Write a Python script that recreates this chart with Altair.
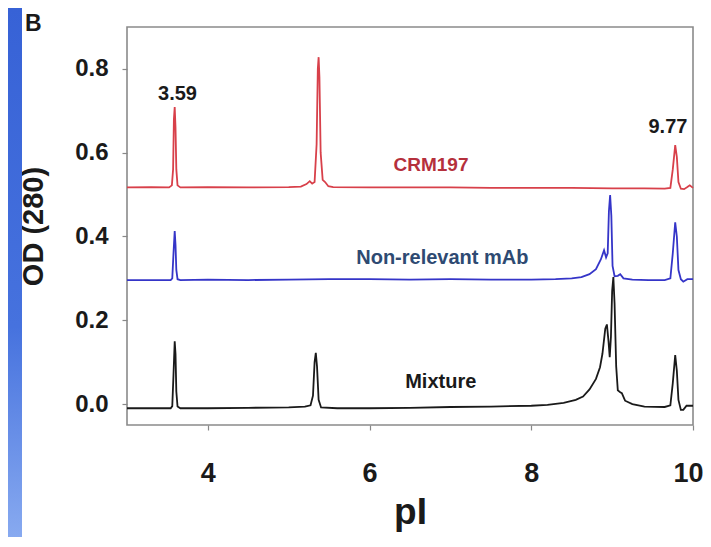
import altair as alt
import pandas as pd

# ---------------- data ----------------
crm_x = [3.00, 3.30, 3.52, 3.555, 3.57, 3.58, 3.59, 3.60, 3.61, 3.625, 3.66, 4.00, 4.50, 5.00, 5.15,
         5.22, 5.26, 5.29, 5.32, 5.345, 5.36, 5.37, 5.38, 5.395, 5.42, 5.45, 5.49, 5.55, 6.00, 6.50,
         7.00, 7.50, 8.00, 8.50, 9.00, 9.40, 9.65, 9.72, 9.75, 9.78, 9.80, 9.82, 9.85, 9.89, 9.93,
         9.96, 10.00]
crm_y = [0.517, 0.518, 0.517, 0.522, 0.560, 0.680, 0.709, 0.660, 0.560, 0.522, 0.517, 0.518, 0.517,
         0.518, 0.519, 0.525, 0.532, 0.526, 0.530, 0.620, 0.800, 0.828, 0.780, 0.600, 0.535, 0.530,
         0.520, 0.518, 0.517, 0.517, 0.517, 0.516, 0.516, 0.516, 0.515, 0.515, 0.514, 0.516, 0.560,
         0.618, 0.590, 0.530, 0.514, 0.513, 0.518, 0.522, 0.516]

mab_x = [3.00, 3.30, 3.54, 3.56, 3.575, 3.59, 3.60, 3.61, 3.625, 3.66, 4.00, 4.50, 5.00, 5.50, 6.00,
         6.50, 7.00, 7.50, 8.00, 8.30, 8.50, 8.62, 8.72, 8.80, 8.86, 8.90, 8.925, 8.945, 8.96, 8.975,
         8.99, 9.005, 9.03, 9.07, 9.10, 9.14, 9.25, 9.45, 9.65, 9.72, 9.75, 9.78, 9.80, 9.82, 9.85,
         9.88, 9.93, 10.00]
mab_y = [0.296, 0.296, 0.296, 0.300, 0.360, 0.413, 0.380, 0.320, 0.298, 0.296, 0.297, 0.296, 0.297,
         0.298, 0.298, 0.297, 0.298, 0.297, 0.297, 0.298, 0.300, 0.303, 0.310, 0.322, 0.345, 0.367,
         0.350, 0.360, 0.460, 0.499, 0.450, 0.330, 0.305, 0.306, 0.310, 0.300, 0.297, 0.296, 0.296,
         0.300, 0.360, 0.434, 0.400, 0.320, 0.298, 0.292, 0.298, 0.298]

mix_x = [3.00, 3.30, 3.54, 3.56, 3.575, 3.59, 3.60, 3.61, 3.625, 3.66, 4.00, 4.50, 5.00, 5.20, 5.27,
         5.30, 5.32, 5.335, 5.35, 5.37, 5.40, 5.60, 6.00, 6.50, 7.00, 7.50, 8.00, 8.20, 8.40, 8.55,
         8.64, 8.72, 8.80, 8.85, 8.88, 8.915, 8.935, 8.955, 8.97, 8.985, 9.00, 9.015, 9.03, 9.05,
         9.07, 9.10, 9.12, 9.16, 9.25, 9.40, 9.65, 9.72, 9.75, 9.78, 9.80, 9.82, 9.85, 9.88, 9.92,
         10.00]
mix_y = [-0.010, -0.010, -0.010, -0.005, 0.070, 0.150, 0.120, 0.030, -0.006, -0.010, -0.010, -0.009,
         -0.008, -0.006, -0.003, 0.020, 0.100, 0.122, 0.090, 0.010, -0.008, -0.010, -0.010, -0.009,
         -0.007, -0.006, -0.004, -0.002, 0.003, 0.010, 0.018, 0.035, 0.060, 0.088, 0.120, 0.180,
         0.190, 0.150, 0.112, 0.160, 0.270, 0.303, 0.240, 0.090, 0.033, 0.028, 0.026, 0.008, 0.000,
         -0.006, -0.007, -0.003, 0.050, 0.117, 0.080, 0.010, -0.014, -0.014, -0.004, -0.004]

series_names = ["CRM197", "Non-relevant mAb", "Mixture"]
series_colors = ["#d8404a", "#3535c8", "#1a1a1a"]

ann_text = ["3.59", "9.77", "CRM197", "Non-relevant mAb", "Mixture"]
ann_x = [3.625, 9.69, 6.76, 6.90, 6.88]
ann_y = [0.726, 0.647, 0.556, 0.334, 0.038]
ann_color = ["#1a1a1a", "#1a1a1a", "#b5303c", "#2e4a72", "#1a1a1a"]
ann_size = [20, 20, 19, 20, 20]

x_ticks = [4, 6, 8, 10]
y_ticks = [0.0, 0.2, 0.4, 0.6, 0.8]

# ---------------- build tables ----------------
rows = []
for name, xs, ys in zip(series_names, [crm_x, mab_x, mix_x], [crm_y, mab_y, mix_y]):
    for xv, yv in zip(xs, ys):
        rows.append({"pI": xv, "OD": yv, "series": name})
lines_df = pd.DataFrame(rows)

ann_df = pd.DataFrame({"text": ann_text, "pI": ann_x, "OD": ann_y,
                       "color": ann_color, "fs": ann_size})

FONT = "Liberation Sans"

xscale = alt.Scale(domain=[3, 10], nice=False, zero=False)
yscale = alt.Scale(domain=[-0.05, 0.9], nice=False, zero=False)

x_enc = alt.X("pI:Q", scale=xscale, axis=alt.Axis(
    values=x_ticks, format="d", title="pI", labelFontSize=27, labelPadding=30,
    labelFlush=True, labelFlushOffset=10,
    titleFontSize=37, titleX=283, titleY=98, titleBaseline="alphabetic",
    titleAlign="center"))
y_enc = alt.Y("OD:Q", scale=yscale, axis=alt.Axis(
    values=y_ticks, format=".1f", title="OD (280)", labelFontSize=24, labelPadding=14,
    titleFontSize=29, titleAngle=270, titleX=-94, titleY=199,
    titleAlign="center", titleBaseline="middle"))

lines = alt.Chart(lines_df).mark_line(strokeWidth=1.8).encode(
    x=x_enc, y=y_enc,
    color=alt.Color("series:N", scale=alt.Scale(domain=series_names, range=series_colors),
                    legend=None),
    order=alt.Order("pI:Q"),
)

texts = alt.Chart(ann_df).mark_text(fontWeight="bold", align="center",
                                    baseline="alphabetic", font=FONT).encode(
    x=alt.X("pI:Q", scale=xscale),
    y=alt.Y("OD:Q", scale=yscale),
    text="text:N",
    color=alt.Color("color:N", scale=None),
    size=alt.Size("fs:Q", scale=None),
)

bar_grad = alt.Gradient(
    gradient="linear",
    stops=[alt.GradientStop(color="#3762d6", offset=0),
           alt.GradientStop(color="#4672de", offset=0.6),
           alt.GradientStop(color="#88aaf0", offset=1)],
    x1=0, x2=0, y1=0, y2=1)

side_bar = alt.Chart(pd.DataFrame({"k": [0]})).mark_rect(color=bar_grad).encode(
    x=alt.value(-119), x2=alt.value(-105), y=alt.value(-19), y2=alt.value(512))

panel = alt.Chart(pd.DataFrame({"t": ["B"]})).mark_text(
    fontWeight="bold", fontSize=23, align="left", baseline="alphabetic",
    font=FONT, color="#1a1a1a").encode(
    text="t:N", x=alt.value(-102), y=alt.value(4))

chart = alt.layer(side_bar, lines, texts, panel).properties(
    width=566, height=398,
    autosize=alt.AutoSizeParams(type="none"),
    padding={"left": 119, "top": 19, "right": 10, "bottom": 112},
).configure(font=FONT).configure_axis(
    grid=False, domain=False, tickColor="#888888", tickSize=5, tickWidth=1.2,
    labelFont=FONT, labelFontWeight="bold", labelColor="#1a1a1a",
    titleFont=FONT, titleFontWeight="bold", titleColor="#1a1a1a",
).configure_view(stroke="#8a8a8a", strokeWidth=1.6)

chart.save("out.html", embed_options={"renderer": "svg", "actions": False})
